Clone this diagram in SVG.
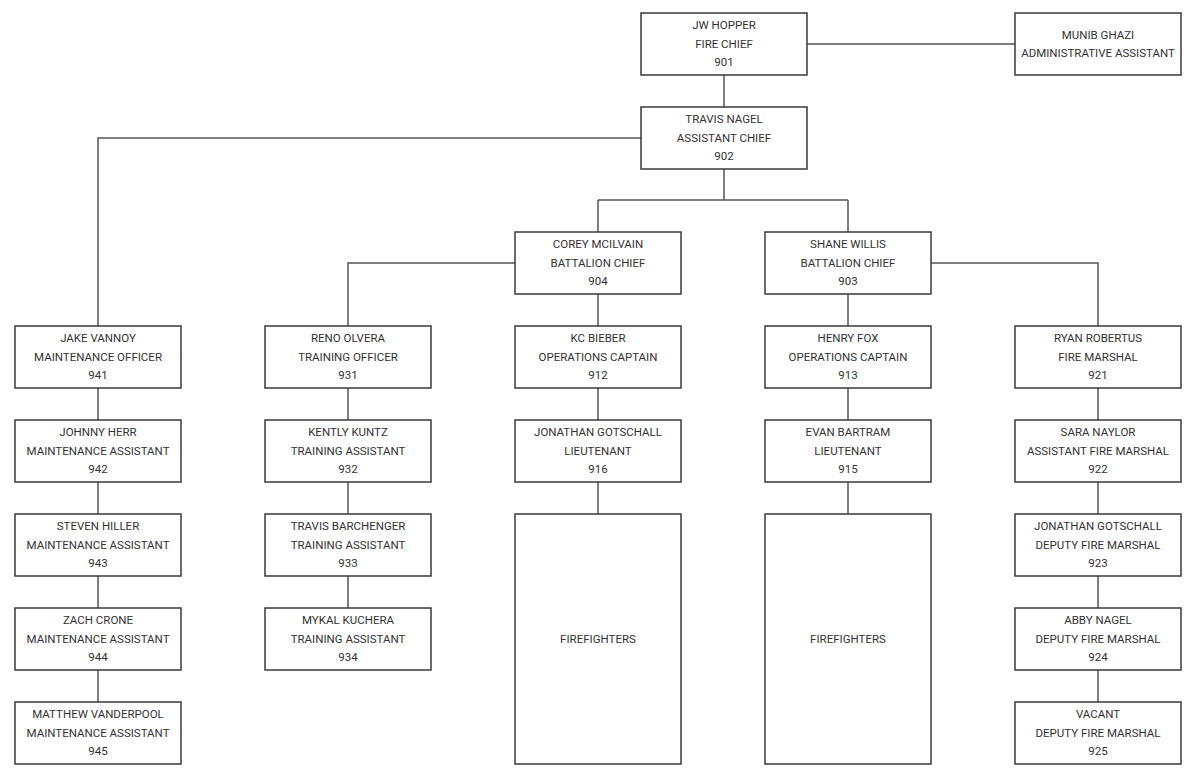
<svg xmlns="http://www.w3.org/2000/svg" width="1200" height="779" viewBox="0 0 1200 779">
<style>
.b{fill:#fff;stroke:#3a3a3a;stroke-width:1.5}
.c{fill:none;stroke:#555;stroke-width:1.5}
text{font-family:"Roboto","Liberation Sans",sans-serif;font-size:11.5px;fill:#333;text-anchor:middle;dominant-baseline:central}
</style>
<rect width="1200" height="779" fill="#fff"/>
<g id="connectors">
<path class="c" d="M807 44H1015"/>
<path class="c" d="M724 75V107"/>
<path class="c" d="M641 138H98V326"/>
<path class="c" d="M724 169V200M598 200H848M598 200V232M848 200V232"/>
<path class="c" d="M515 263H348V326"/>
<path class="c" d="M931 263H1098V326"/>
<path class="c" d="M598 294V326M848 294V326"/>
<path class="c" d="M98 388V420M98 482V514M98 576V608M98 670V702"/>
<path class="c" d="M348 388V420M348 482V514M348 576V608"/>
<path class="c" d="M598 388V420M598 482V514"/>
<path class="c" d="M848 388V420M848 482V514"/>
<path class="c" d="M1098 388V420M1098 482V514M1098 576V608M1098 670V702"/>
</g>
<g id="n901"><rect class="b" x="641" y="13" width="166" height="62"/><text x="724" y="25">JW HOPPER</text><text x="724" y="44">FIRE CHIEF</text><text x="724" y="62">901</text></g>
<g id="nmunib"><rect class="b" x="1015" y="13" width="166" height="62"/><text x="1098" y="35">MUNIB GHAZI</text><text x="1098" y="53">ADMINISTRATIVE ASSISTANT</text></g>
<g id="n902"><rect class="b" x="641" y="107" width="166" height="62"/><text x="724" y="119">TRAVIS NAGEL</text><text x="724" y="138">ASSISTANT CHIEF</text><text x="724" y="156">902</text></g>
<g id="n904"><rect class="b" x="515" y="232" width="166" height="62"/><text x="598" y="244">COREY MCILVAIN</text><text x="598" y="263">BATTALION CHIEF</text><text x="598" y="281">904</text></g>
<g id="n903"><rect class="b" x="765" y="232" width="166" height="62"/><text x="848" y="244">SHANE WILLIS</text><text x="848" y="263">BATTALION CHIEF</text><text x="848" y="281">903</text></g>
<g id="n941"><rect class="b" x="15" y="326" width="166" height="62"/><text x="98" y="338">JAKE VANNOY</text><text x="98" y="357">MAINTENANCE OFFICER</text><text x="98" y="375">941</text></g>
<g id="n942"><rect class="b" x="15" y="420" width="166" height="62"/><text x="98" y="432">JOHNNY HERR</text><text x="98" y="451">MAINTENANCE ASSISTANT</text><text x="98" y="469">942</text></g>
<g id="n943"><rect class="b" x="15" y="514" width="166" height="62"/><text x="98" y="526">STEVEN HILLER</text><text x="98" y="545">MAINTENANCE ASSISTANT</text><text x="98" y="563">943</text></g>
<g id="n944"><rect class="b" x="15" y="608" width="166" height="62"/><text x="98" y="620">ZACH CRONE</text><text x="98" y="639">MAINTENANCE ASSISTANT</text><text x="98" y="657">944</text></g>
<g id="n945"><rect class="b" x="15" y="702" width="166" height="62"/><text x="98" y="714">MATTHEW VANDERPOOL</text><text x="98" y="733">MAINTENANCE ASSISTANT</text><text x="98" y="751">945</text></g>
<g id="n931"><rect class="b" x="265" y="326" width="166" height="62"/><text x="348" y="338">RENO OLVERA</text><text x="348" y="357">TRAINING OFFICER</text><text x="348" y="375">931</text></g>
<g id="n932"><rect class="b" x="265" y="420" width="166" height="62"/><text x="348" y="432">KENTLY KUNTZ</text><text x="348" y="451">TRAINING ASSISTANT</text><text x="348" y="469">932</text></g>
<g id="n933"><rect class="b" x="265" y="514" width="166" height="62"/><text x="348" y="526">TRAVIS BARCHENGER</text><text x="348" y="545">TRAINING ASSISTANT</text><text x="348" y="563">933</text></g>
<g id="n934"><rect class="b" x="265" y="608" width="166" height="62"/><text x="348" y="620">MYKAL KUCHERA</text><text x="348" y="639">TRAINING ASSISTANT</text><text x="348" y="657">934</text></g>
<g id="n912"><rect class="b" x="515" y="326" width="166" height="62"/><text x="598" y="338">KC BIEBER</text><text x="598" y="357">OPERATIONS CAPTAIN</text><text x="598" y="375">912</text></g>
<g id="n916"><rect class="b" x="515" y="420" width="166" height="62"/><text x="598" y="432">JONATHAN GOTSCHALL</text><text x="598" y="451">LIEUTENANT</text><text x="598" y="469">916</text></g>
<g id="nff1"><rect class="b" x="515" y="514" width="166" height="250"/><text x="598" y="639">FIREFIGHTERS</text></g>
<g id="n913"><rect class="b" x="765" y="326" width="166" height="62"/><text x="848" y="338">HENRY FOX</text><text x="848" y="357">OPERATIONS CAPTAIN</text><text x="848" y="375">913</text></g>
<g id="n915"><rect class="b" x="765" y="420" width="166" height="62"/><text x="848" y="432">EVAN BARTRAM</text><text x="848" y="451">LIEUTENANT</text><text x="848" y="469">915</text></g>
<g id="nff2"><rect class="b" x="765" y="514" width="166" height="250"/><text x="848" y="639">FIREFIGHTERS</text></g>
<g id="n921"><rect class="b" x="1015" y="326" width="166" height="62"/><text x="1098" y="338">RYAN ROBERTUS</text><text x="1098" y="357">FIRE MARSHAL</text><text x="1098" y="375">921</text></g>
<g id="n922"><rect class="b" x="1015" y="420" width="166" height="62"/><text x="1098" y="432">SARA NAYLOR</text><text x="1098" y="451">ASSISTANT FIRE MARSHAL</text><text x="1098" y="469">922</text></g>
<g id="n923"><rect class="b" x="1015" y="514" width="166" height="62"/><text x="1098" y="526">JONATHAN GOTSCHALL</text><text x="1098" y="545">DEPUTY FIRE MARSHAL</text><text x="1098" y="563">923</text></g>
<g id="n924"><rect class="b" x="1015" y="608" width="166" height="62"/><text x="1098" y="620">ABBY NAGEL</text><text x="1098" y="639">DEPUTY FIRE MARSHAL</text><text x="1098" y="657">924</text></g>
<g id="n925"><rect class="b" x="1015" y="702" width="166" height="62"/><text x="1098" y="714">VACANT</text><text x="1098" y="733">DEPUTY FIRE MARSHAL</text><text x="1098" y="751">925</text></g>
</svg>
